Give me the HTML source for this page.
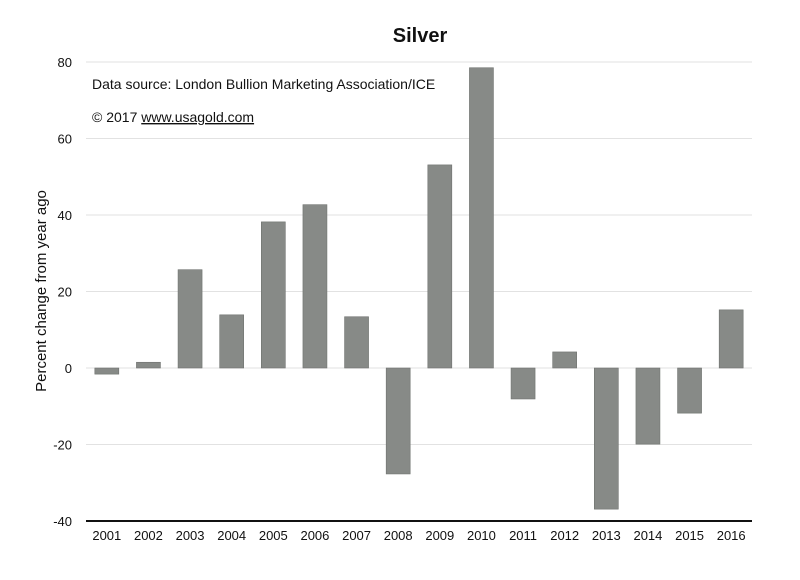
<!DOCTYPE html>
<html><head><meta charset="utf-8"><style>
body{margin:0;background:#fff;width:800px;height:575px;overflow:hidden}
svg text{font-family:"Liberation Sans",Arial,sans-serif;fill:#111}
</style></head><body>
<svg id="chart" width="800" height="575">
<text x="420" y="42" font-size="20" font-weight="bold" text-anchor="middle">Silver</text>
<g id="grid"></g><g id="bars"></g><g id="axes"></g>
<text x="92" y="89" font-size="14">Data source:  London Bullion Marketing Association/ICE</text>
<text x="92" y="122" font-size="14">© 2017 <tspan text-decoration="underline">www.usagold.com</tspan></text>
<text transform="translate(46,291) rotate(-90)" font-size="15" text-anchor="middle">Percent change from year ago</text>
</svg>
<script>
const categories=["2001","2002","2003","2004","2005","2006","2007","2008","2009","2010","2011","2012","2013","2014","2015","2016"];
const values=[-1.6,1.5,25.7,13.9,38.2,42.7,13.4,-27.7,53.1,78.5,-8.1,4.2,-36.9,-19.9,-11.8,15.2];
const yTicks=[80,60,40,20,0,-20,-40];
const NS="http://www.w3.org/2000/svg";
const L=86,R=752,T=62,B=521,ymin=-40,ymax=80;
const y=v=>B-(v-ymin)/(ymax-ymin)*(B-T);
const step=(R-L)/categories.length;
const x=i=>L+step*(i+0.5);
function mk(t,a,p){const e=document.createElementNS(NS,t);for(const k in a)e.setAttribute(k,a[k]);p.appendChild(e);return e;}
const g=document.getElementById('grid'),bg=document.getElementById('bars'),ax=document.getElementById('axes');
yTicks.forEach(v=>{
 if(v!==ymin){const l=mk('line',{x1:L,x2:R,y1:y(v),y2:y(v),stroke:'#e2e2e2','stroke-width':1},g);
 
 }
 const t=mk('text',{x:L-14,y:y(v)+5,'font-size':13,'text-anchor':'end'},ax);t.textContent=v;
 
 
});
const al=mk('line',{x1:L,x2:R,y1:B,y2:B,stroke:'#111','stroke-width':2},ax);


categories.forEach((c,i)=>{
 const v=values[i],bw=24;
 const r=mk('rect',{x:x(i)-bw/2,y:Math.min(y(v),y(0)),width:bw,height:Math.abs(y(v)-y(0)),fill:'#878a87',stroke:'#6f726f','stroke-width':0.6},bg);
 
 
 const t=mk('text',{x:x(i),y:B+19,'font-size':13,'text-anchor':'middle'},ax);t.textContent=c;
 
 
});
</script>
</body></html>
